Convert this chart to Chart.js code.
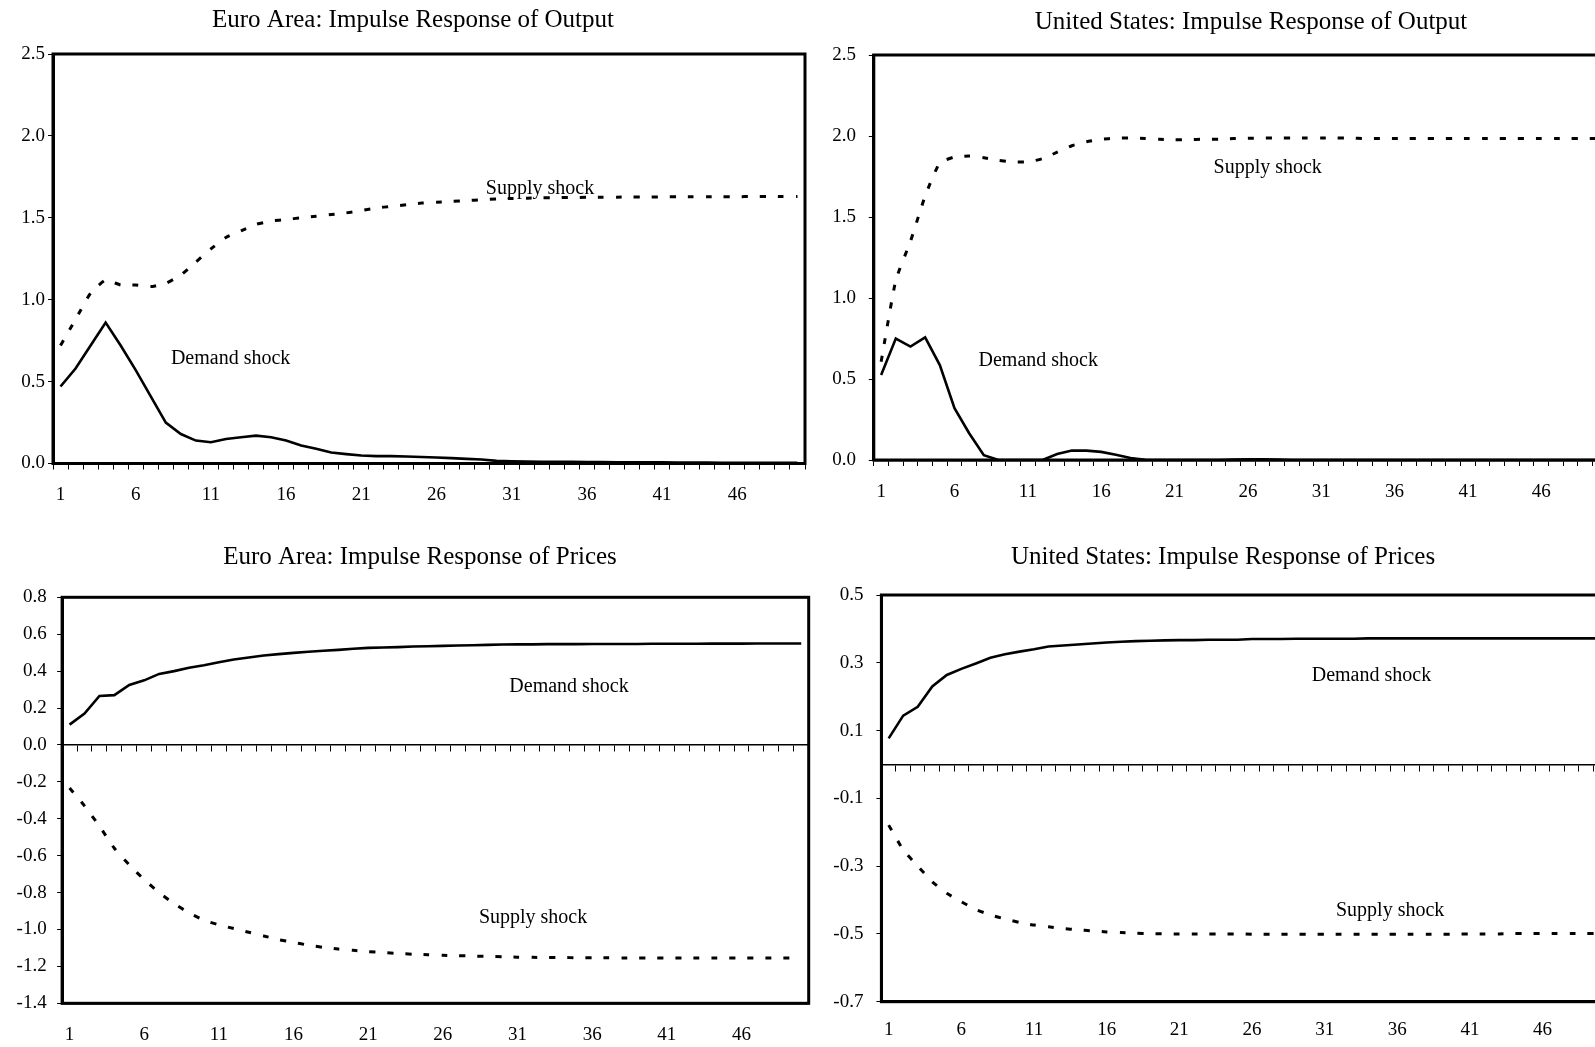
<!DOCTYPE html>
<html>
<head>
<meta charset="utf-8">
<script src="https://cdn.jsdelivr.net/npm/chart.js@4.4.1/dist/chart.umd.min.js"></script>
<style>
html, body { margin: 0; padding: 0; background: #fff; overflow: hidden; width: 1595px; height: 1047px; }
canvas { position: absolute; }
</style>
</head>
<body>
<canvas id="c1" width="826" height="530" style="left:0px;top:0px"></canvas>
<canvas id="c2" width="902" height="530" style="left:800px;top:0px"></canvas>
<canvas id="c3" width="840" height="517" style="left:0px;top:530px"></canvas>
<canvas id="c4" width="846" height="517" style="left:800px;top:530px"></canvas>
<script>
// ---------- data ----------
const periods = [1,2,3,4,5,6,7,8,9,10,11,12,13,14,15,16,17,18,19,20,21,22,23,24,25,
                 26,27,28,29,30,31,32,33,34,35,36,37,38,39,40,41,42,43,44,45,46,47,48,49,50];
const xTickLabels = [1, 6, 11, 16, 21, 26, 31, 36, 41, 46];
const outputYTicks = [0, 0.5, 1.0, 1.5, 2.0, 2.5];
const euroPriceYTicks = [0.8, 0.6, 0.4, 0.2, 0.0, -0.2, -0.4, -0.6, -0.8, -1.0, -1.2, -1.4];
const usPriceYTicks = [0.5, 0.3, 0.1, -0.1, -0.3, -0.5, -0.7];

const euroOutputDemand = [0.47,0.58,0.72,0.86,0.72,0.57,0.41,0.25,0.18,0.14,
  0.13,0.15,0.16,0.17,0.16,0.14,0.11,0.09,0.067,0.057,
  0.049,0.045,0.045,0.043,0.04,0.037,0.033,0.028,0.024,0.016,
  0.014,0.012,0.011,0.01,0.01,0.009,0.009,0.008,0.008,0.007,
  0.007,0.006,0.006,0.006,0.005,0.005,0.004,0.004,0.004,0.004];
const euroOutputSupply = [0.72,0.88,1.04,1.12,1.09,1.09,1.08,1.10,1.15,1.23,
  1.31,1.38,1.42,1.46,1.48,1.49,1.50,1.51,1.52,1.53,
  1.545,1.56,1.57,1.58,1.59,1.595,1.60,1.605,1.61,1.615,
  1.618,1.62,1.622,1.623,1.624,1.625,1.626,1.626,1.627,1.627,
  1.628,1.628,1.628,1.629,1.629,1.629,1.63,1.63,1.63,1.63];

const usOutputDemand = [0.525,0.75,0.70,0.757,0.586,0.32,0.165,0.03,0,0,
  0,0,0.037,0.058,0.058,0.05,0.033,0.012,0.002,0,
  0,0,0,0,0.003,0.004,0.004,0.003,0,0,
  0,0,0,0,0,0,0,0,0,0,
  0,0,0,0,0,0,0,0,0,0];
const usOutputSupply = [0.607,1.11,1.35,1.63,1.835,1.87,1.876,1.866,1.85,1.84,
  1.84,1.86,1.90,1.94,1.965,1.98,1.986,1.988,1.984,1.98,
  1.977,1.977,1.98,1.98,1.984,1.986,1.988,1.988,1.988,1.988,
  1.988,1.988,1.988,1.984,1.984,1.984,1.984,1.984,1.984,1.984,
  1.984,1.984,1.984,1.984,1.984,1.984,1.984,1.984,1.984,1.984];

const euroPricesDemand = [0.11,0.17,0.265,0.27,0.325,0.35,0.385,0.40,0.418,0.432,
  0.448,0.463,0.474,0.485,0.492,0.499,0.505,0.51,0.515,0.521,
  0.526,0.528,0.53,0.533,0.535,0.537,0.539,0.54,0.542,0.544,
  0.545,0.545,0.546,0.546,0.546,0.547,0.547,0.547,0.547,0.548,
  0.548,0.548,0.548,0.549,0.549,0.549,0.55,0.55,0.55,0.55];
const euroPricesSupply = [-0.233,-0.33,-0.44,-0.56,-0.65,-0.73,-0.80,-0.86,-0.91,-0.95,
  -0.975,-0.995,-1.015,-1.035,-1.055,-1.07,-1.085,-1.097,-1.106,-1.113,
  -1.12,-1.125,-1.13,-1.134,-1.137,-1.14,-1.142,-1.144,-1.146,-1.148,
  -1.15,-1.151,-1.152,-1.152,-1.153,-1.153,-1.153,-1.154,-1.154,-1.154,
  -1.154,-1.155,-1.155,-1.155,-1.155,-1.155,-1.155,-1.155,-1.155,-1.155];

const usPricesDemand = [0.077,0.144,0.17,0.23,0.264,0.282,0.298,0.315,0.325,0.333,
  0.34,0.348,0.351,0.354,0.357,0.36,0.362,0.364,0.365,0.366,
  0.367,0.367,0.368,0.368,0.368,0.37,0.37,0.37,0.371,0.371,
  0.371,0.371,0.371,0.372,0.372,0.372,0.372,0.372,0.372,0.372,
  0.372,0.372,0.372,0.372,0.372,0.372,0.372,0.372,0.372,0.372];
const usPricesSupply = [-0.179,-0.252,-0.30,-0.346,-0.38,-0.405,-0.428,-0.444,-0.456,-0.466,
  -0.474,-0.479,-0.484,-0.488,-0.491,-0.494,-0.496,-0.498,-0.499,-0.5,
  -0.5,-0.5,-0.5,-0.5,-0.5,-0.501,-0.501,-0.501,-0.501,-0.501,
  -0.501,-0.501,-0.501,-0.501,-0.501,-0.501,-0.501,-0.501,-0.501,-0.501,
  -0.5,-0.5,-0.5,-0.499,-0.499,-0.499,-0.499,-0.499,-0.499,-0.499];

const titles = [
  'Euro Area: Impulse Response of Output',
  'United States: Impulse Response of Output',
  'Euro Area: Impulse Response of Prices',
  'United States: Impulse Response of Prices'
];
const demandLabel = 'Demand shock';
const supplyLabel = 'Supply shock';

// ---------- styling / layout ----------
const FONT = '"Liberation Serif", "Times New Roman", serif';
Chart.defaults.font.family = FONT;
Chart.defaults.color = '#000';

const framePlugin = {
  id: 'frame',
  afterDatasetsDraw(chart) {
    const a = chart.chartArea, ctx = chart.ctx;
    ctx.save();
    ctx.lineWidth = 3;
    ctx.strokeStyle = '#000';
    ctx.strokeRect(a.left, a.top, a.right - a.left, a.bottom - a.top);
    ctx.restore();
  }
};

function makeLabelPlugin(items) {
  return {
    id: 'shockLabels',
    afterDatasetsDraw(chart) {
      const ctx = chart.ctx, xs = chart.scales.x, ys = chart.scales.y;
      ctx.save();
      ctx.font = '20px ' + FONT;
      ctx.fillStyle = '#000';
      ctx.textAlign = 'center';
      ctx.textBaseline = 'middle';
      items.forEach(it => {
        ctx.fillText(it.text, xs.getPixelForValue(it.p - 1), ys.getPixelForValue(it.v));
      });
      ctx.restore();
    }
  };
}

function build(id, p) {
  const scales = {
    x: {
      type: 'category',
      position: 'bottom',
      offset: true,
      grid: { display: !p.zero, drawOnChartArea: false, drawTicks: !p.zero, tickLength: 6,
              offset: true, color: '#000', lineWidth: 1 },
      border: { display: true, color: '#000', width: 2.5 },
      ticks: {
        autoSkip: false, maxRotation: 0, minRotation: 0, padding: p.xPad,
        font: { size: 19 }, color: '#000',
        callback: function (value) {
          const lab = this.getLabelForValue(value);
          return xTickLabels.includes(Number(lab)) ? String(lab) : '';
        }
      },
      afterFit: s => { s.height = p.xH; }
    },
    y: {
      type: 'linear',
      position: 'left',
      min: p.yMin, max: p.yMax,
      grid: { display: true, drawOnChartArea: false, drawTicks: true, tickLength: 5,
              color: '#000', lineWidth: 1 },
      border: { display: true, color: '#000', width: 3 },
      ticks: { padding: p.yPad, font: { size: 19 }, color: '#000',
               callback: v => Number(v).toFixed(1) },
      afterBuildTicks: s => { s.ticks = p.yTicks.map(v => ({ value: v })); },
      afterFit: s => { s.width = p.yW; }
    },
    y2: {
      type: 'linear',
      position: 'right',
      display: true,
      grid: { display: false, drawTicks: false },
      border: { display: false },
      ticks: { display: false },
      afterFit: s => { s.width = p.y2W; }
    }
  };
  if (p.zero) {
    scales.x0 = {
      type: 'category',
      axis: 'x',
      position: { y: 0 },
      offset: true,
      grid: { display: true, drawOnChartArea: false, drawTicks: true, tickLength: 6,
              offset: true, color: '#000', lineWidth: 1 },
      border: { display: true, color: '#000', width: 1.5 },
      ticks: { display: false }
    };
  }
  return new Chart(document.getElementById(id), {
    type: 'line',
    data: {
      labels: periods,
      datasets: [
        { label: supplyLabel, data: p.supply, xAxisID: 'x', yAxisID: 'y',
          borderColor: '#000', borderWidth: 3, borderDash: [6, 12], borderCapStyle: 'butt',
          pointRadius: 0, fill: false, tension: 0.15 },
        { label: demandLabel, data: p.demand, xAxisID: 'x', yAxisID: 'y',
          borderColor: '#000', borderWidth: 2.6, pointRadius: 0, fill: false,
          tension: 0 }
      ]
    },
    options: {
      responsive: false,
      animation: false,
      devicePixelRatio: 1,
      layout: { padding: 0 },
      scales: scales,
      plugins: {
        legend: { display: false },
        tooltip: { enabled: false },
        title: {
          display: true, text: p.title, color: '#000',
          font: { size: 25, weight: 'normal', family: FONT, lineHeight: 1.2 },
          padding: p.titlePad
        }
      }
    },
    plugins: [framePlugin, makeLabelPlugin(p.labels)]
  });
}

build('c1', {
  title: titles[0], demand: euroOutputDemand, supply: euroOutputSupply,
  yMin: 0, yMax: 2.5, yTicks: outputYTicks, zero: false,
  yW: 53, y2W: 21, xH: 66.5, yPad: 3, xPad: 14.1,
  titlePad: { top: 5, bottom: 19 },
  labels: [ { text: supplyLabel, p: 32.88, v: 1.677 }, { text: demandLabel, p: 12.31, v: 0.64 } ]
});
build('c2', {
  title: titles[1], demand: usOutputDemand, supply: usOutputSupply,
  yMin: 0, yMax: 2.5, yTicks: outputYTicks, zero: false,
  yW: 73.8, y2W: 94.7, xH: 70, yPad: 12.8, xPad: 14.3,
  titlePad: { top: 7.7, bottom: 17.3 },
  labels: [ { text: supplyLabel, p: 27.35, v: 1.806 }, { text: demandLabel, p: 11.71, v: 0.611 } ]
});
build('c3', {
  title: titles[2], demand: euroPricesDemand, supply: euroPricesSupply,
  yMin: -1.4, yMax: 0.8, yTicks: euroPriceYTicks, zero: true,
  yW: 62.1, y2W: 31.3, xH: 43.7, yPad: 10.4, xPad: 20.3,
  titlePad: { top: 12.8, bottom: 24.5 },
  labels: [ { text: demandLabel, p: 34.45, v: 0.317 }, { text: supplyLabel, p: 32.04, v: -0.938 } ]
});
build('c4', {
  title: titles[3], demand: usPricesDemand, supply: usPricesSupply,
  yMin: -0.7, yMax: 0.5, yTicks: usPriceYTicks, zero: true,
  yW: 81.4, y2W: 38, xH: 45.3, yPad: 13, xPad: 17.4,
  titlePad: { top: 12.8, bottom: 22.2 },
  labels: [ { text: demandLabel, p: 34.22, v: 0.2625 }, { text: supplyLabel, p: 35.51, v: -0.431 } ]
});
</script>
</body>
</html>
